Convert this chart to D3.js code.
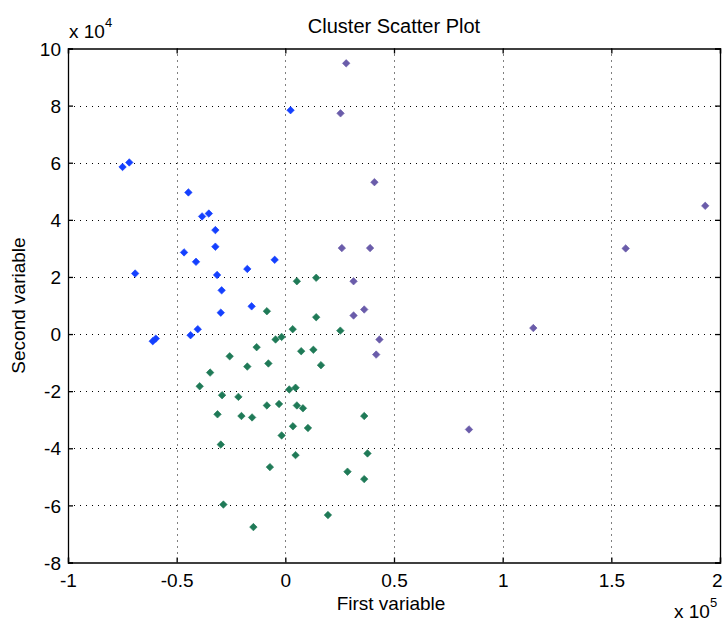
<!DOCTYPE html>
<html>
<head>
<meta charset="utf-8">
<script src="https://cdn.jsdelivr.net/npm/d3@7"></script>
<style>
  body { margin: 0; background: #fff; }
  text { font-family: "Liberation Sans", Arial, sans-serif; fill: #000; }
</style>
</head>
<body>
<svg id="chart" width="724" height="621"></svg>
<script>
// values in axis units: x in 1e5, y in 1e4
const blueX = [-0.749, -0.718, -0.446, -0.383, -0.352, -0.322, -0.322, -0.466, -0.411, -0.049, -0.175,
               -0.691, -0.314, -0.293, 0.024, -0.297, -0.155, -0.403, -0.436, -0.610, -0.596];
const blueY = [5.85, 6.01, 4.96, 4.12, 4.22, 3.64, 3.06, 2.86, 2.53, 2.60, 2.28,
               2.12, 2.07, 1.53, 7.84, 0.75, 0.97, 0.17, -0.04, -0.25, -0.16];

const purpleX = [0.280, 0.254, 0.410, 0.260, 0.390, 0.314, 0.314, 0.363, 0.433, 0.418, 1.932, 1.566, 1.141, 0.845];
const purpleY = [9.48, 7.73, 5.32, 3.01, 3.01, 1.85, 0.65, 0.86, -0.19, -0.72, 4.49, 3.00, 0.21, -3.34];

const greenX = [0.053, 0.142, -0.085, 0.142, 0.034, 0.253, -0.017, -0.045, -0.132, 0.073, 0.129,
                -0.256, 0.164, -0.175, -0.078, -0.346, -0.394, 0.018, 0.047, -0.291, -0.216,
                -0.085, -0.029, 0.053, 0.081, -0.312, -0.202, -0.153, 0.363, 0.035, 0.104,
                -0.017, -0.297, 0.047, 0.378, -0.071, 0.286, 0.363, -0.285, 0.196, -0.147];
const greenY = [1.85, 1.97, 0.80, 0.59, 0.17, 0.12, -0.10, -0.19, -0.46, -0.60, -0.55,
                -0.78, -1.09, -1.14, -1.03, -1.35, -1.83, -1.94, -1.88, -2.14, -2.20,
                -2.50, -2.45, -2.50, -2.60, -2.81, -2.87, -2.92, -2.87, -3.23, -3.29,
                -3.55, -3.87, -4.24, -4.18, -4.66, -4.82, -5.08, -5.97, -6.34, -6.76];

const xTicks = [-1, -0.5, 0, 0.5, 1, 1.5, 2];
const yTicks = [-8, -6, -4, -2, 0, 2, 4, 6, 8, 10];

const clusters = [
  { xs: greenX, ys: greenY, color: "#1f7a57" },
  { xs: purpleX, ys: purpleY, color: "#6a5caa" },
  { xs: blueX, ys: blueY, color: "#1440ff" }
];

const svg = d3.select("#chart");
const pLeft = 68, pRight = 720, pTop = 48.5, pBottom = 562.5;
const fs = 19;

const x = d3.scaleLinear().domain([-1, 2]).range([pLeft, pRight]);
const y = d3.scaleLinear().domain([-8, 10]).range([pBottom, pTop]);

// grid
const grid = svg.append("g").attr("stroke", "#000").attr("stroke-dasharray", "1,5").attr("stroke-width", 1);
grid.selectAll(".gx").data(xTicks.slice(1, -1)).enter().append("line")
    .attr("x1", d => Math.round(x(d)) + 0.5).attr("x2", d => Math.round(x(d)) + 0.5)
    .attr("y1", pTop).attr("y2", pBottom);
grid.selectAll(".gy").data(yTicks.slice(1, -1)).enter().append("line")
    .attr("x1", pLeft).attr("x2", pRight)
    .attr("y1", d => Math.round(y(d)) + 0.5).attr("y2", d => Math.round(y(d)) + 0.5);

// axes (ticks inside, on all four sides)
const fmt = d => String(d);
const axB = svg.append("g").attr("transform", `translate(0,${pBottom})`)
    .call(d3.axisBottom(x).tickValues(xTicks).tickSize(-5).tickPadding(7).tickFormat(fmt));
const axT = svg.append("g").attr("transform", `translate(0,${pTop})`)
    .call(d3.axisTop(x).tickValues(xTicks).tickSize(-5).tickFormat(""));
const axL = svg.append("g").attr("transform", `translate(${pLeft},0)`)
    .call(d3.axisLeft(y).tickValues(yTicks).tickSize(-5).tickPadding(7).tickFormat(fmt));
const axR = svg.append("g").attr("transform", `translate(${pRight},0)`)
    .call(d3.axisRight(y).tickValues(yTicks).tickSize(-5).tickFormat(""));

[axB, axT, axL, axR].forEach(a => {
  a.select(".domain").attr("stroke", "#000").attr("stroke-width", 1.3);
  a.selectAll(".tick line").attr("stroke", "#000").attr("stroke-width", 1.3);
  a.selectAll("text").attr("font-size", fs).attr("font-family", "Liberation Sans, Arial, sans-serif").attr("fill", "#000");
});
axB.selectAll("text").attr("dy", "0.9em");
// last x label sits on the window edge, keep it inside
axB.selectAll("text").filter(d => d === 2).attr("text-anchor", "end").attr("dx", 2);
axL.selectAll("text").attr("dy", "0.35em");

// points
const diamond = d3.symbol().type(d3.symbolSquare).size(28);
clusters.forEach(c => {
  svg.append("g").selectAll("path")
    .data(c.xs.map((v, i) => [v, c.ys[i]]))
    .enter().append("path")
    .attr("d", diamond)
    .attr("fill", c.color)
    .attr("stroke", c.color)
    .attr("stroke-width", 0.6)
    .attr("transform", d => `translate(${x(d[0])},${y(d[1])}) rotate(45)`);
});

// titles
svg.append("text").attr("x", (pLeft + pRight) / 2).attr("y", 33)
    .attr("text-anchor", "middle").attr("font-size", 20).text("Cluster Scatter Plot");
svg.append("text").attr("x", 391).attr("y", 610)
    .attr("text-anchor", "middle").attr("font-size", fs).text("First variable");
svg.append("text").attr("transform", `translate(25,${(pTop + pBottom) / 2}) rotate(-90)`)
    .attr("text-anchor", "middle").attr("font-size", fs).text("Second variable");

// exponent labels
const e4 = svg.append("text").attr("x", 69).attr("y", 38).attr("font-size", fs);
e4.append("tspan").text("x 10");
e4.append("tspan").attr("dy", -11).attr("font-size", 13).text("4");
const e5 = svg.append("text").attr("x", 674).attr("y", 618).attr("font-size", fs);
e5.append("tspan").text("x 10");
e5.append("tspan").attr("dy", -11).attr("font-size", 13).text("5");
</script>
</body>
</html>
